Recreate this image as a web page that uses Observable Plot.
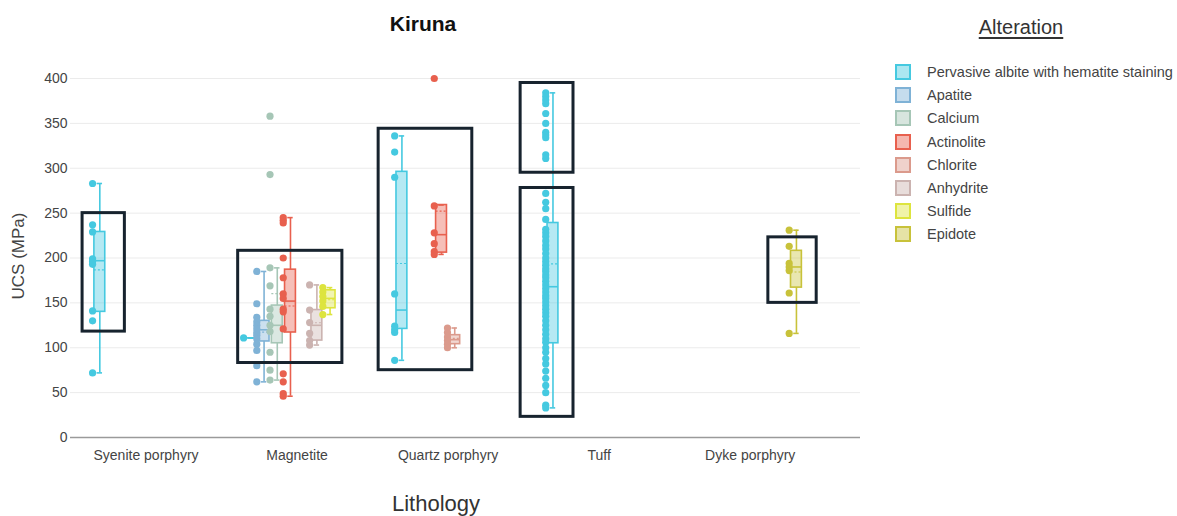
<!DOCTYPE html>
<html>
<head>
<meta charset="utf-8">
<script src="https://cdn.jsdelivr.net/npm/d3@7"></script>
<script src="https://cdn.jsdelivr.net/npm/@observablehq/plot@0.6"></script>
<style>
  html, body { margin: 0; padding: 0; background: #fff; }
  #wrap { position: relative; width: 1177px; height: 516px; font-family: "Liberation Sans", Arial, sans-serif; color: #444; }
  #chart { position: absolute; left: 0; top: 0; }
  .title { position: absolute; left: 323px; width: 200px; top: 12px; text-align: center; font-weight: bold; font-size: 21px; color: #111; }
  .ylab { position: absolute; left: 19px; top: 256px; transform: translate(-50%, -50%) rotate(-90deg); font-size: 17px; white-space: nowrap; color: #444; }
  .xlab { position: absolute; left: 336px; width: 200px; top: 491px; text-align: center; font-size: 22px; color: #333; }
  .legtitle { position: absolute; left: 960px; width: 122px; top: 16px; text-align: center; font-size: 20px; color: #333; text-decoration: underline; text-underline-offset: 3px; }
  .legitem { position: absolute; left: 895px; height: 16px; display: flex; align-items: center; font-size: 14.5px; color: #444; white-space: nowrap; }
  .sw { width: 12px; height: 12px; border: 2px solid; margin-right: 16px; }
</style>
</head>
<body>
<div id="wrap">
  <div id="chart"></div>
  <div class="title">Kiruna</div>
  <div class="ylab">UCS (MPa)</div>
  <div class="xlab">Lithology</div>
  <div class="legtitle">Alteration</div>
  <div id="legend"></div>
</div>
<script>
// ---- data ----
const lithologies = ["Syenite porphyry", "Magnetite", "Quartz porphyry", "Tuff", "Dyke porphyry"];
const alterations = ["Pervasive albite with hematite staining", "Apatite", "Calcium", "Actinolite", "Chlorite", "Anhydrite", "Sulfide", "Epidote"];
const alterationColors = ["#45c9e0", "#7fb2d6", "#a6c6b6", "#e8604e", "#db9a8c", "#cbb3b0", "#dde43e", "#c8c23a"];
const yTicks = [0, 50, 100, 150, 200, 250, 300, 350, 400];

// one entry per box (lithology, alteration)
const groupLithology = ["Syenite porphyry", "Magnetite", "Magnetite", "Magnetite", "Magnetite", "Magnetite", "Magnetite", "Quartz porphyry", "Quartz porphyry", "Quartz porphyry", "Tuff", "Dyke porphyry"];
const groupAlteration = ["Pervasive albite with hematite staining", "Pervasive albite with hematite staining", "Apatite", "Calcium", "Actinolite", "Anhydrite", "Sulfide", "Pervasive albite with hematite staining", "Actinolite", "Chlorite", "Pervasive albite with hematite staining", "Epidote"];
// UCS (MPa) sample values
const groupPoints = [
  [283, 237, 229, 199, 196, 193, 141, 130, 72],
  [111],
  [185, 149, 134, 129, 125, 121, 117, 114, 110, 104, 97, 80, 62],
  [358, 293, 189, 169, 143, 135, 125, 118, 95, 75, 64],
  [245, 242, 239, 200, 178, 160, 155, 143, 140, 121, 71, 62, 49, 46],
  [170, 142, 128, 116, 108, 103],
  [167, 162, 157, 152, 146, 137],
  [336, 318, 290, 160, 124, 120, 117, 86],
  [400, 258, 228, 216, 207, 204],
  [122, 117, 112, 108, 104, 100],
  [384, 380, 376, 372, 361, 350, 340, 337, 334, 315, 311, 272, 262, 255, 243, 232, 228, 224, 219, 214, 210, 205, 200, 196, 192, 188, 185, 181, 178, 174, 170, 166, 162, 158, 155, 151, 147, 143, 139, 135, 130, 125, 120, 115, 110, 106, 100, 95, 88, 82, 74, 66, 58, 50, 36, 33],
  [231, 213, 194, 190, 186, 161, 116]
];
// [lower fence, q1, median, q3, upper fence]
const groupStats = [
  [72, 140, 197, 229, 283],
  [111, 111, 111, 111, 111],
  [62, 107, 120, 130, 185],
  [64, 105, 125, 147, 189],
  [46, 117, 152, 187, 245],
  [103, 108, 125, 142, 170],
  [137, 144, 155, 164, 167],
  [86, 121, 142, 296, 336],
  [204, 206, 226, 259, 259],
  [100, 104, 109, 114, 122],
  [33, 105, 168, 239, 384],
  [116, 167, 190, 208, 231]
];
// highlighted regions (black outlines): lithology index span and UCS span
const hlX1 = [-0.42, 0.61, 1.54, 2.48, 2.48, 4.12];
const hlX2 = [-0.14, 1.30, 2.16, 2.83, 2.83, 4.44];
const hlY1 = [118, 83, 75, 295, 23, 150];
const hlY2 = [250, 208, 344, 395, 278, 223];

// ---- build tables ----
const slot = 0.0874;      // width of one alteration slot within a lithology (category units)
const bw = 0.036;         // half box width
const pOff = 0.048;       // points drawn left of the box
const boxes = groupLithology.map((lit, k) => {
  const li = lithologies.indexOf(lit);
  const si = alterations.indexOf(groupAlteration[k]);
  const [lower, q1, median, q3, upper] = groupStats[k];
  return {alteration: groupAlteration[k], x: li + (si - 3.5) * slot, lower, q1, median, q3, upper, mean: d3.mean(groupPoints[k])};
});
const points = boxes.flatMap((b, k) => groupPoints[k].map(v => ({alteration: b.alteration, x: b.x, value: v})));
const highlights = hlX1.map((x1, i) => ({x1, x2: hlX2[i], y1: hlY1[i], y2: hlY2[i]}));

const chart = Plot.plot({
  width: 1177,
  height: 516,
  marginLeft: 70,
  marginRight: 317,
  marginTop: 60,
  marginBottom: 79,
  style: {fontFamily: "Liberation Sans, Arial, sans-serif", fontSize: "14px", color: "#444", background: "transparent"},
  x: {type: "linear", domain: [-0.5, 4.73], range: [70, 860]},
  y: {domain: [0, 400], range: [437, 78]},
  color: {domain: alterations, range: alterationColors},
  marks: [
    Plot.gridY(yTicks, {stroke: "#ebebeb", strokeOpacity: 1, strokeWidth: 1}),
    Plot.ruleY([0], {stroke: "#9a9a9a", strokeWidth: 1.5}),
    Plot.axisY({ticks: yTicks, tickSize: 0, tickPadding: 3, label: null, fill: "#444"}),
    Plot.axisX({ticks: [0, 1, 2, 3, 4], tickFormat: i => lithologies[i], tickSize: 0, tickPadding: 13, label: null, fill: "#444"}),
    // whiskers
    Plot.ruleX(boxes, {x: "x", y1: "q3", y2: "upper", stroke: "alteration", strokeWidth: 1.6}),
    Plot.ruleX(boxes, {x: "x", y1: "lower", y2: "q1", stroke: "alteration", strokeWidth: 1.6}),
    Plot.ruleY(boxes, {y: "upper", x1: d => d.x - bw / 2, x2: d => d.x + bw / 2, stroke: "alteration", strokeWidth: 1.6}),
    Plot.ruleY(boxes, {y: "lower", x1: d => d.x - bw / 2, x2: d => d.x + bw / 2, stroke: "alteration", strokeWidth: 1.6}),
    // boxes
    Plot.rect(boxes, {x1: d => d.x - bw, x2: d => d.x + bw, y1: "q1", y2: "q3", fill: "alteration", fillOpacity: 0.4, stroke: "alteration", strokeWidth: 1.6, inset: 0}),
    Plot.ruleY(boxes, {y: "median", x1: d => d.x - bw, x2: d => d.x + bw, stroke: "alteration", strokeWidth: 1.6}),
    Plot.ruleY(boxes, {y: "mean", x1: d => d.x - bw, x2: d => d.x + bw, stroke: "alteration", strokeWidth: 1.2, strokeDasharray: "2,2"}),
    // sample points
    Plot.dot(points, {x: d => d.x - pOff, y: "value", r: 3.6, fill: "alteration", stroke: "none"}),
    // highlight outlines
    Plot.rect(highlights, {x1: "x1", x2: "x2", y1: "y1", y2: "y2", fill: "none", stroke: "#17232e", strokeWidth: 3, inset: 0})
  ]
});
document.getElementById("chart").appendChild(chart);

// legend
const legend = document.getElementById("legend");
alterations.forEach((a, i) => {
  const item = document.createElement("div");
  item.className = "legitem";
  item.style.top = (64 + i * 23.2) + "px";
  const sw = document.createElement("div");
  sw.className = "sw";
  const c = d3.color(alterationColors[i]);
  sw.style.borderColor = alterationColors[i];
  c.opacity = 0.45;
  sw.style.background = c.toString();
  item.appendChild(sw);
  const t = document.createElement("span");
  t.textContent = a;
  item.appendChild(t);
  legend.appendChild(item);
});
</script>
</body>
</html>
